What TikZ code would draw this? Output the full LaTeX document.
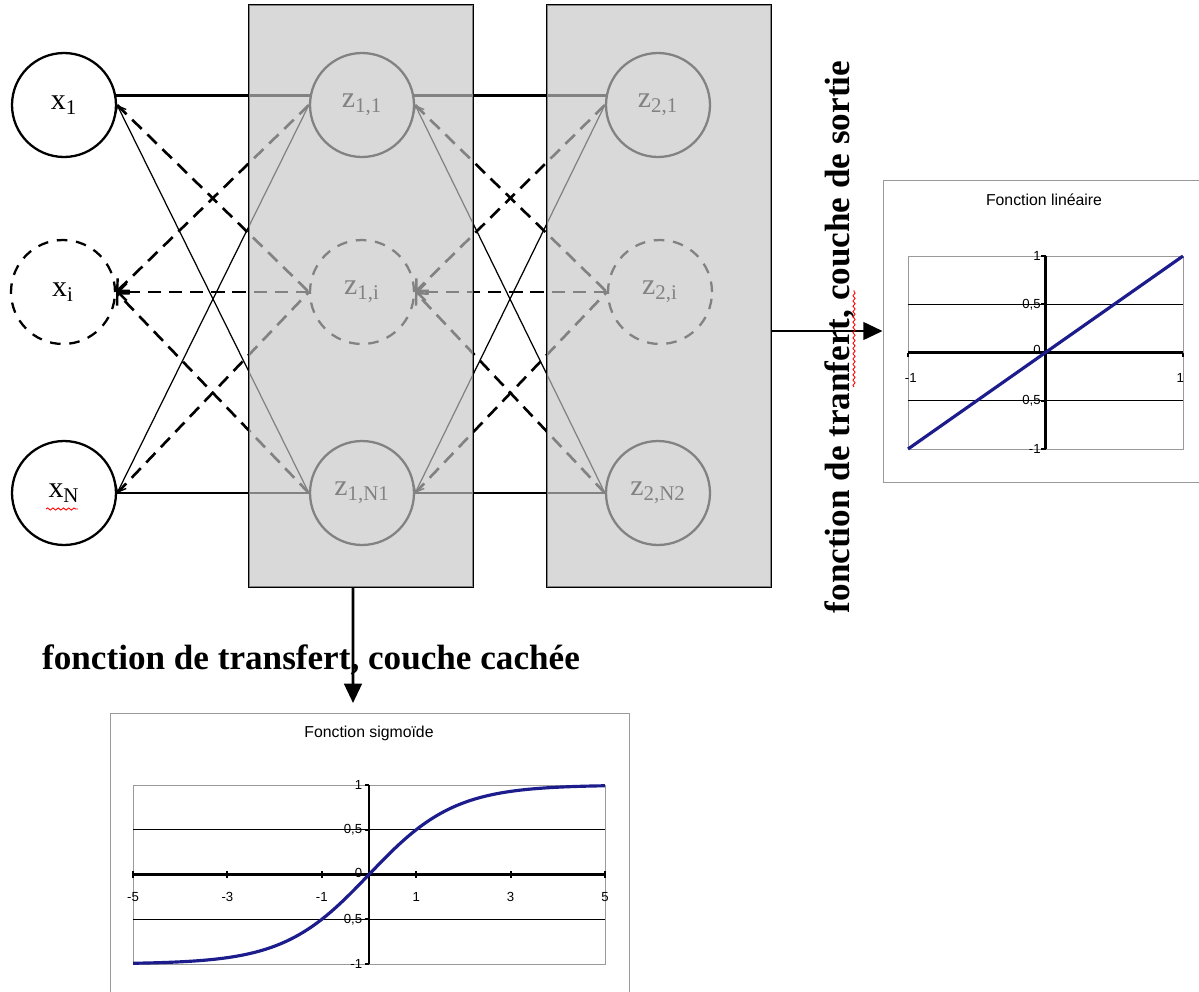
\documentclass[tikz,border=0pt]{standalone}
\usepackage{fontspec}
\setmainfont{Liberation Serif}
\newfontfamily\chartfont{Liberation Sans}
\usetikzlibrary{arrows.meta,decorations.pathmorphing}
\definecolor{boxgray}{HTML}{D9D9D9}
\definecolor{curveblue}{HTML}{1C1C8C}
\definecolor{framegray}{HTML}{9A9A9A}
\begin{document}
\begin{tikzpicture}[x=0.02cm,y=-0.02cm,
  neuron/.style={circle,draw,line width=1.3pt,minimum size=2.08cm,inner sep=0pt,font=\fontsize{17}{20}\selectfont},
  dneuron/.style={neuron,dash pattern=on 6pt off 5pt},
  layerbox/.style={draw,line width=0.6pt,fill=boxgray,minimum width=4.48cm,minimum height=11.64cm,inner sep=0pt},
  mainline/.style={line width=1.6pt},
  thinline/.style={line width=0.7pt},
  dashline/.style={line width=1.5pt,dash pattern=on 7.5pt off 4.5pt},
  bigtip/.style={-{Straight Barb[length=5pt,width=10pt,line width=1.4pt]}},
  smalltip/.style={-{Straight Barb[length=4pt,width=7pt,line width=0.8pt]}},
  bigarrow/.style={line width=1.6pt,-{Triangle[length=11pt,width=10pt]}},
  chartframe/.style={draw=framegray,line width=0.5pt,inner sep=0pt},
  lbl/.style={font=\chartfont\fontsize{7.5}{9}\selectfont,inner sep=1pt},
  ttl/.style={font=\chartfont\fontsize{9}{11}\selectfont},
  bigtext/.style={font=\bfseries\fontsize{20}{24}\selectfont,inner sep=0pt},
  squiggle/.style={red,line width=0.5pt,decorate,decoration={snake,amplitude=0.6pt,segment length=3pt}}
]
\useasboundingbox (0,0) rectangle (1199,991);

% layer boxes (background)
\node[layerbox] (hbox) at (361,296) {};
\node[layerbox] (obox) at (659,296) {};

% neurons
\node[neuron]  (x1)  at (64,105)  {x\textsubscript{1}};
\node[dneuron] (xi)  at (63,292)  {x\textsubscript{i}};
\node[neuron]  (xN)  at (64,493)  {x\textsubscript{N}};
\node[neuron]  (z11) at (362,105) {z\textsubscript{1,1}};
\node[dneuron] (z1i) at (362,292) {z\textsubscript{1,i}};
\node[neuron]  (z1N) at (362,493) {z\textsubscript{1,N1}};
\node[neuron]  (z21) at (658,105) {z\textsubscript{2,1}};
\node[dneuron] (z2i) at (660,292) {z\textsubscript{2,i}};
\node[neuron]  (z2N) at (658,493) {z\textsubscript{2,N2}};

% connectors input -> hidden
\draw[mainline] (x1.10) -- (z11.170);
\draw[mainline] (xN.east) -- (z1N.west);
\draw[thinline,smalltip] (z1N.west) -- (x1.east);
\draw[thinline,smalltip] (z11.west) -- (xN.east);
\draw[dashline] (x1.east) -- (z1i.west);
\draw[dashline] (xN.east) -- (z1i.west);
\draw[dashline,bigtip] (z11.west) -- (xi.east);
\draw[dashline,bigtip] (z1i.west) -- (xi.east);
\draw[dashline,bigtip] (z1N.west) -- (xi.east);

% connectors hidden -> output
\draw[mainline] (z11.10) -- (z21.170);
\draw[mainline] (z1N.east) -- (z2N.west);
\draw[thinline,smalltip] (z2N.west) -- (z11.east);
\draw[thinline,smalltip] (z21.west) -- (z1N.east);
\draw[dashline] (z11.east) -- (z2i.west);
\draw[dashline] (z1N.east) -- (z2i.west);
\draw[dashline,bigtip] (z21.west) -- (z1i.east);
\draw[dashline,bigtip] (z2i.west) -- (z1i.east);
\draw[dashline,bigtip] (z2N.west) -- (z1i.east);

% translucent overlay of the layer boxes
\fill[boxgray,fill opacity=0.6] (hbox.south west) rectangle (hbox.north east);
\fill[boxgray,fill opacity=0.6] (obox.south west) rectangle (obox.north east);
\draw[line width=0.6pt] (hbox.south west) rectangle (hbox.north east);
\draw[line width=0.6pt] (obox.south west) rectangle (obox.north east);

% spelling squiggle under xN
\draw[squiggle] (46,509) -- (78,509);

% chart frames
\node[chartframe,minimum width=6.36cm,minimum height=6.04cm] (lframe) at (1042,331) {};
\node[chartframe,minimum width=10.38cm,minimum height=5.74cm] (sframe) at (369.5,856.5) {};

% arrows to the charts
\coordinate (hcut) at (353,703);
\draw[bigarrow] ([xshift=-0.16cm]hbox.south) -- (hcut);
\draw[bigarrow] (obox.east |- lframe.west) -- (lframe.west);

% texts
\node[bigtext,anchor=base] (htext) at (311,669) {fonction de transfert, couche cachée};
\node[bigtext,anchor=base,rotate=90] (otext) at (849,337) {fonction de tranfert, couche de sortie};
\draw[squiggle] (854,387) -- (854,290);

% linear chart
\node[ttl] (ltitle) at (1044,200) {Fonction linéaire};
\begin{scope}[shift={(1045.5,352.5)},x=2.75cm,y=1.93cm]
  \draw[framegray,line width=0.5pt] (-1,-1) rectangle (1,1);
  \draw[line width=0.6pt] (-1,0.5) -- (1,0.5) (-1,-0.5) -- (1,-0.5);
  \draw[line width=1.3pt] (-1,0) -- (1,0) (0,-1) -- (0,1);
  \foreach \v in {-1,-0.5,0,0.5,1} \draw[line width=1.3pt] (0,\v) -- ++(-0.03,0);
  \foreach \u in {-1,1} \draw[line width=1.3pt] (\u,0) -- ++(0,-0.05);
  \draw[curveblue,line width=1.8pt] (-1,-1) -- (1,1);
  \node[lbl,anchor=east] at (-0.02,1) {1};
  \node[lbl,anchor=east] at (-0.02,0.5) {0,5};
  \node[lbl,anchor=east] at (-0.02,0.03) {0};
  \node[lbl,anchor=east] at (-0.02,-0.5) {-0,5};
  \node[lbl,anchor=east] at (-0.02,-1) {-1};
  \node[lbl] at (-0.98,-0.26) {-1};
  \node[lbl] at (0.98,-0.26) {1};
\end{scope}

% sigmoid chart
\node[ttl] (stitle) at (369,733) {Fonction sigmoïde};
\begin{scope}[shift={(369,874.5)},x=0.944cm,y=1.79cm]
  \draw[framegray,line width=0.5pt] (-5,-1) rectangle (5,1);
  \draw[line width=0.6pt] (-5,0.5) -- (5,0.5) (-5,-0.5) -- (5,-0.5);
  \draw[line width=1.3pt] (-5,0) -- (5,0) (0,-1) -- (0,1);
  \foreach \v in {-1,-0.5,0,0.5,1} \draw[line width=1.3pt] (0,\v) -- ++(-0.08,0);
  \foreach \u in {-5,-3,-1,1,3,5} \draw[line width=1.2pt] (\u,-0.04) -- (\u,0.04);
  \draw[curveblue,line width=1.8pt] plot[domain=-5:5,samples=101,smooth] (\x,{tanh(0.55*\x)});
  \node[lbl,anchor=east] at (-0.1,1) {1};
  \node[lbl,anchor=east] at (-0.1,0.5) {0,5};
  \node[lbl,anchor=east] at (-0.1,0.02) {0};
  \node[lbl,anchor=east] at (-0.1,-0.5) {-0,5};
  \node[lbl,anchor=east] at (-0.1,-1) {-1};
  \foreach \u in {-5,-3,-1,1,3,5} \node[lbl] at (\u,-0.25) {\u};
\end{scope}
\end{tikzpicture}
\end{document}
